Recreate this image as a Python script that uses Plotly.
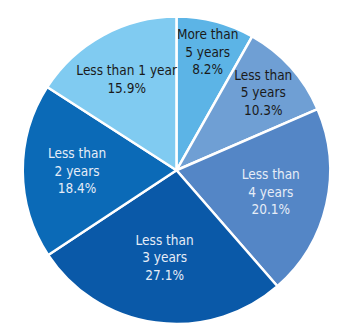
import plotly.graph_objects as go

# Share of holdings by remaining term, clockwise from 12 o'clock
categories = ["More than<br>5 years", "Less than<br>5 years", "Less than<br>4 years",
              "Less than<br>3 years", "Less than<br>2 years", "Less than 1 year"]
shares = [8.2, 10.3, 20.1, 27.1, 18.4, 15.9]
slice_colors = ["#5cb4e6", "#6f9fd4", "#5486c6", "#0a59a8", "#0b6ab7", "#80cbf1"]
text_colors = ["#1a1a1a", "#1a1a1a", "#e6edf7", "#e6edf7", "#e6edf7", "#1a1a1a"]

labels_text = [f"{c}<br>{v:.1f}%" for c, v in zip(categories, shares)]

FONT = "DejaVu Sans Condensed, Liberation Sans Narrow, sans-serif"
SIZE = 13.5

fig = go.Figure(go.Pie(
    labels=categories,
    values=shares,
    text=labels_text,
    textinfo="text",
    textposition="inside",
    insidetextorientation="horizontal",
    sort=False,
    direction="clockwise",
    rotation=0,
    marker=dict(colors=slice_colors, line=dict(color="white", width=2.5)),
    insidetextfont=dict(family=FONT, size=SIZE, color=text_colors),
    domain=dict(x=[0.063, 0.934], y=[0.0, 0.949]),
    hoverinfo="skip",
))

fig.update_layout(
    width=354, height=324,
    margin=dict(l=0, r=0, t=0, b=0),
    showlegend=False,
    paper_bgcolor="white",
    plot_bgcolor="white",
    uniformtext=dict(minsize=SIZE, mode="show"),
)

fig.write_html("out.html")
